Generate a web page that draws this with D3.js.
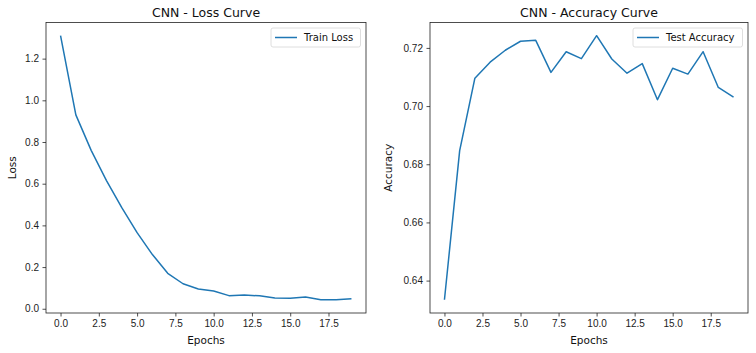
<!DOCTYPE html>
<html>
<head>
<meta charset="utf-8">
<script src="https://cdn.jsdelivr.net/npm/d3@7"></script>
<style>
  body { margin: 0; background: #fff; }
  svg { font-family: "DejaVu Sans", sans-serif; }
  .tick text { font-size: 10px; fill: #222; }
  .tick line { stroke: #222; stroke-width: 0.8; }
  .domain { display: none; }
</style>
</head>
<body>
<div id="chart"></div>
<script>
// data
var epochs = d3.range(0, 20);
var trainLoss = [1.31, 0.93, 0.76, 0.615, 0.485, 0.365, 0.26, 0.17, 0.12, 0.095,
                 0.085, 0.063, 0.066, 0.062, 0.052, 0.051, 0.056, 0.043, 0.043, 0.048];
var testAcc = [0.6334, 0.6847, 0.7096, 0.7151, 0.7192, 0.7223, 0.7226, 0.7116, 0.7187, 0.7163,
               0.7242, 0.7162, 0.7113, 0.7146, 0.7022, 0.713, 0.711, 0.7187, 0.7064, 0.7031];
var xTicks = [0, 2.5, 5, 7.5, 10, 12.5, 15, 17.5];
var lossTicks = [0, 0.2, 0.4, 0.6, 0.8, 1.0, 1.2];
var accTicks = [0.64, 0.66, 0.68, 0.70, 0.72];

var w = 756, h = 353;
var svg = d3.select("#chart").append("svg")
    .attr("width", w)
    .attr("height", h);

var blue = "#1f77b4";

// matplotlib style 5% padding
function pad(ext) {
    var m = (ext[1] - ext[0]) * 0.05;
    return [ext[0] - m, ext[1] + m];
}

function drawPanel(opt) {
    var x = d3.scaleLinear().domain(pad(d3.extent(epochs))).range([opt.left, opt.right]);
    var y = d3.scaleLinear().domain(pad(d3.extent(opt.values))).range([opt.bottom, opt.top]);

    var g = svg.append("g");

    g.append("g")
        .attr("transform", "translate(0," + opt.bottom + ")")
        .call(d3.axisBottom(x).tickValues(xTicks).tickSize(3.5).tickPadding(3.5)
            .tickFormat(d3.format(".1f")));

    g.append("g")
        .attr("transform", "translate(" + opt.left + ",0)")
        .call(d3.axisLeft(y).tickValues(opt.ticks).tickSize(3.5).tickPadding(3.5)
            .tickFormat(d3.format(opt.fmt)));

    var line = d3.line()
        .x(function (d, i) { return x(epochs[i]); })
        .y(function (d) { return y(d); });

    g.append("path")
        .datum(opt.values)
        .attr("d", line)
        .attr("fill", "none")
        .attr("stroke", blue)
        .attr("stroke-width", 1.5)
        .attr("stroke-linejoin", "round");

    // frame
    g.append("rect")
        .attr("x", opt.left)
        .attr("y", opt.top)
        .attr("width", opt.right - opt.left)
        .attr("height", opt.bottom - opt.top)
        .attr("fill", "none")
        .attr("stroke", "#222")
        .attr("stroke-width", 0.8);

    // title
    g.append("text")
        .attr("x", (opt.left + opt.right) / 2)
        .attr("y", 17)
        .attr("text-anchor", "middle")
        .style("font-size", "12.5px")
        .style("fill", "#111")
        .text(opt.title);

    g.append("text")
        .attr("x", (opt.left + opt.right) / 2)
        .attr("y", 344)
        .attr("text-anchor", "middle")
        .style("font-size", "10.5px")
        .style("fill", "#111")
        .text("Epochs");

    g.append("text")
        .attr("transform", "translate(" + opt.ylabX + "," + (opt.top + opt.bottom) / 2 + ") rotate(-90)")
        .attr("text-anchor", "middle")
        .style("font-size", "10.5px")
        .style("fill", "#111")
        .text(opt.ylabel);

    // legend
    var lg = g.append("g");
    lg.append("rect")
        .attr("x", opt.legX)
        .attr("y", opt.top + 5.5)
        .attr("width", opt.right - 5.5 - opt.legX)
        .attr("height", 19)
        .attr("rx", 2)
        .attr("fill", "#fff")
        .attr("fill-opacity", 0.8)
        .attr("stroke", "#d6d6d6")
        .attr("stroke-width", 0.8);
    lg.append("line")
        .attr("x1", opt.legX + 4)
        .attr("x2", opt.legX + 26)
        .attr("y1", opt.top + 15)
        .attr("y2", opt.top + 15)
        .attr("stroke", blue)
        .attr("stroke-width", 1.5);
    lg.append("text")
        .attr("x", opt.legX + 33)
        .attr("y", opt.top + 18.5)
        .style("font-size", "10px")
        .style("fill", "#111")
        .text(opt.legend);
}

drawPanel({
    left: 46, right: 366, top: 22.5, bottom: 313,
    values: trainLoss, ticks: lossTicks, fmt: ".1f",
    title: "CNN - Loss Curve", ylabel: "Loss", ylabX: 16,
    legend: "Train Loss", legX: 271
});

drawPanel({
    left: 430, right: 748, top: 22.5, bottom: 313,
    values: testAcc, ticks: accTicks, fmt: ".2f",
    title: "CNN - Accuracy Curve", ylabel: "Accuracy", ylabX: 392,
    legend: "Test Accuracy", legX: 633
});
</script>
</body>
</html>
